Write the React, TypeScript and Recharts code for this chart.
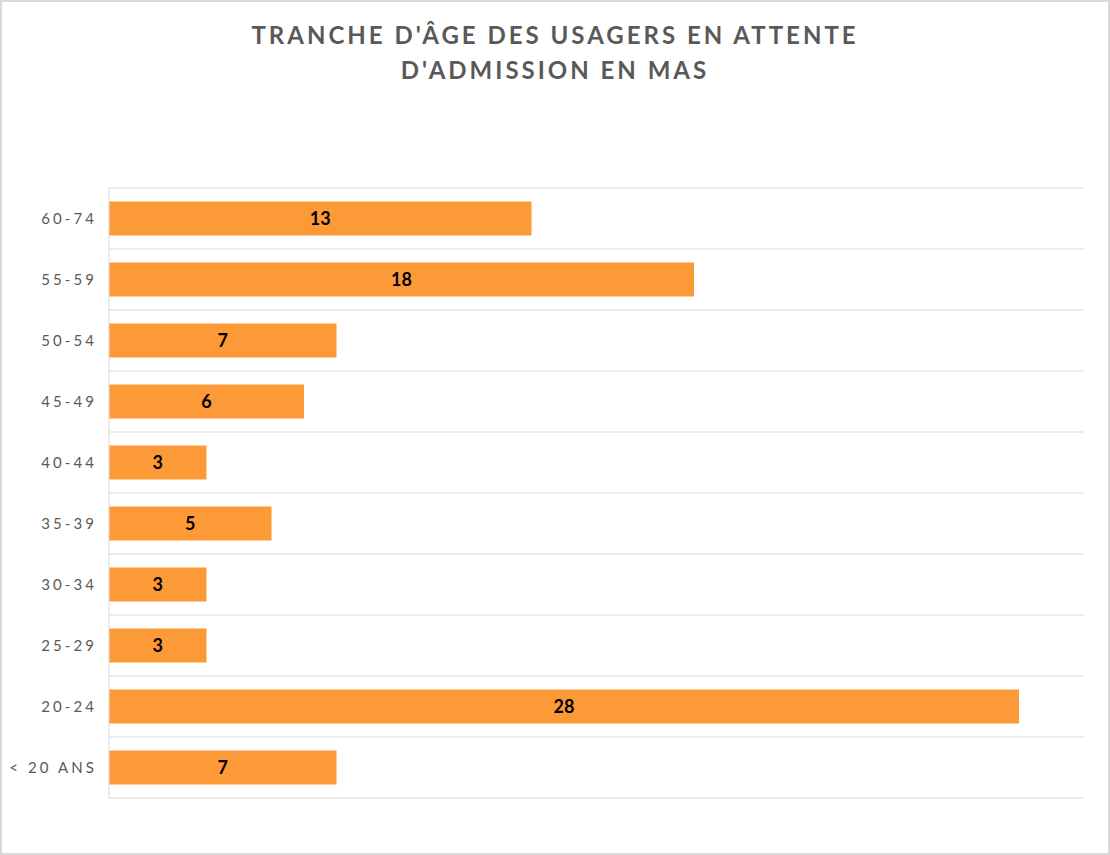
import { BarChart, Bar, XAxis, YAxis, CartesianGrid, LabelList } from 'recharts'

const ageGroups = ['60-74', '55-59', '50-54', '45-49', '40-44', '35-39', '30-34', '25-29', '20-24', '< 20 ANS']
const usagers = [13, 18, 7, 6, 3, 5, 3, 3, 28, 7]
const xDomain = [0, 30]

const chartData = ageGroups.map((g, i) => ({ group: g, value: usagers[i] }))

const grey = '#d9d9d9'

export default function App() {
  return (
    <div
      style={{
        position: 'fixed',
        left: 0,
        top: 0,
        width: 1110,
        height: 855,
        boxSizing: 'border-box',
        border: `2px solid ${grey}`,
        background: '#fff',
        fontFamily: 'Lato, sans-serif',
      }}
    >
      <div
        style={{
          position: 'absolute',
          left: 0,
          top: 15,
          width: 1106,
          textAlign: 'center',
          color: '#595959',
          fontWeight: 700,
          fontSize: 24,
          letterSpacing: 3,
          lineHeight: '35px',
        }}
      >
        TRANCHE D'ÂGE DES USAGERS EN ATTENTE
        <br />
        D'ADMISSION EN MAS
      </div>
      <div style={{ position: 'absolute', left: -2, top: -1 }}>
        <BarChart
          width={1110}
          height={855}
          data={chartData}
          layout="vertical"
          margin={{ top: 187, right: 26, bottom: 58, left: 0 }}
          barCategoryGap="22%"
        >
          <CartesianGrid
            vertical={false}
            stroke={grey}
            horizontalCoordinatesGenerator={({ offset }: any) =>
              ageGroups.map((_, i) => offset.top + (i * offset.height) / ageGroups.length).concat(offset.top + offset.height)
            }
          />
          <XAxis type="number" domain={xDomain} hide />
          <YAxis
            type="category"
            dataKey="group"
            width={109}
            axisLine={{ stroke: grey }}
            tickLine={false}
            tickSize={0}
            tickMargin={12}
            tick={{ fill: '#595959', fontSize: 15, letterSpacing: 3.1, fontFamily: 'Lato, sans-serif' }}
          />
          <Bar dataKey="value" fill="#fd9a38" isAnimationActive={false}>
            <LabelList
              dataKey="value"
              position="center"
              fill="#000"
              style={{ fontWeight: 700, fontSize: 18, fontFamily: 'Lato, sans-serif' }}
            />
          </Bar>
        </BarChart>
      </div>
    </div>
  )
}
